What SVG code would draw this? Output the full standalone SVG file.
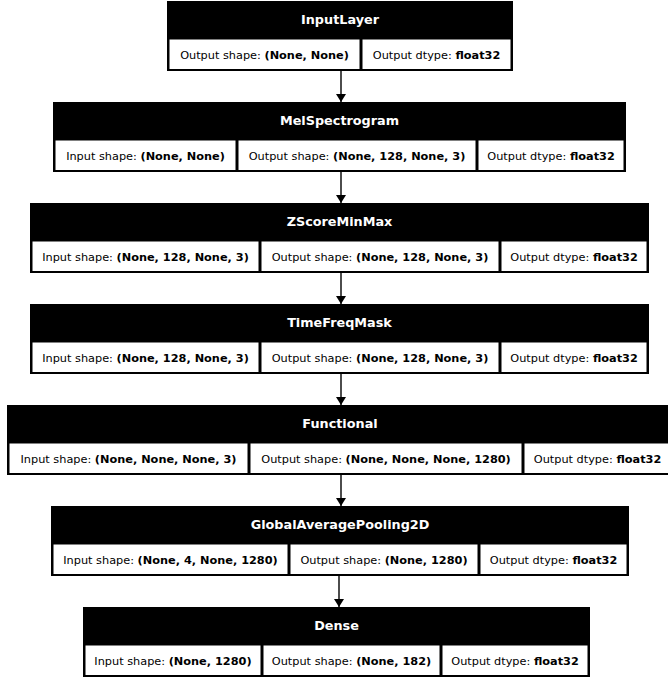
<svg xmlns="http://www.w3.org/2000/svg" width="668" height="677" viewBox="0 0 668 677">
<style>
.box{fill:#000}
.cell{fill:#fff}
.hd{font-family:"DejaVu Sans",sans-serif;font-weight:bold;font-size:12.8px;fill:#fff;text-anchor:middle}
.tx{font-family:"DejaVu Sans",sans-serif;font-size:11.3px;fill:#000;text-anchor:middle}
.b{font-weight:bold}
.edge{stroke:#000;stroke-width:1.4;fill:none}
</style>
<defs>
<marker id="ah" viewBox="0 0 8 10" refX="8" refY="5" markerWidth="8" markerHeight="10" markerUnits="userSpaceOnUse" orient="auto">
<path d="M0,0 L8,5 L0,10 z" fill="#000"/>
</marker>
</defs>
<rect width="668" height="677" fill="#fff"/>
<g id="connectors">
<path class="edge" d="M341,71 L341,102" marker-end="url(#ah)"/>
<path class="edge" d="M341,172 L341,203" marker-end="url(#ah)"/>
<path class="edge" d="M341,273 L341,304" marker-end="url(#ah)"/>
<path class="edge" d="M341,374 L341,405" marker-end="url(#ah)"/>
<path class="edge" d="M341,475 L341,506" marker-end="url(#ah)"/>
<path class="edge" d="M339,576 L339,607" marker-end="url(#ah)"/>
</g>
<g id="InputLayer">
<rect class="box" x="167" y="1" width="346" height="70"/>
<rect class="cell" x="169.5" y="39.5" width="190" height="29.5"/>
<rect class="cell" x="362.5" y="39.5" width="148" height="29.5"/>
<text class="hd" x="340" y="24.2">InputLayer</text>
<text class="tx" x="264.5" y="59">Output shape: <tspan class="b">(None, None)</tspan></text>
<text class="tx" x="436.5" y="59">Output dtype: <tspan class="b">float32</tspan></text>
</g>
<g id="MelSpectrogram">
<rect class="box" x="53" y="102" width="573" height="70"/>
<rect class="cell" x="55.5" y="140.5" width="180" height="29.5"/>
<rect class="cell" x="238.5" y="140.5" width="237" height="29.5"/>
<rect class="cell" x="478.5" y="140.5" width="145" height="29.5"/>
<text class="hd" x="339.5" y="125.2">MelSpectrogram</text>
<text class="tx" x="145.5" y="160">Input shape: <tspan class="b">(None, None)</tspan></text>
<text class="tx" x="357" y="160">Output shape: <tspan class="b">(None, 128, None, 3)</tspan></text>
<text class="tx" x="551" y="160">Output dtype: <tspan class="b">float32</tspan></text>
</g>
<g id="ZScoreMinMax">
<rect class="box" x="30" y="203" width="619" height="70"/>
<rect class="cell" x="32.5" y="241.5" width="226" height="29.5"/>
<rect class="cell" x="261.5" y="241.5" width="237" height="29.5"/>
<rect class="cell" x="501.5" y="241.5" width="145" height="29.5"/>
<text class="hd" x="339.5" y="226.2">ZScoreMinMax</text>
<text class="tx" x="145.5" y="261">Input shape: <tspan class="b">(None, 128, None, 3)</tspan></text>
<text class="tx" x="380" y="261">Output shape: <tspan class="b">(None, 128, None, 3)</tspan></text>
<text class="tx" x="574" y="261">Output dtype: <tspan class="b">float32</tspan></text>
</g>
<g id="TimeFreqMask">
<rect class="box" x="30" y="304" width="619" height="70"/>
<rect class="cell" x="32.5" y="342.5" width="226" height="29.5"/>
<rect class="cell" x="261.5" y="342.5" width="237" height="29.5"/>
<rect class="cell" x="501.5" y="342.5" width="145" height="29.5"/>
<text class="hd" x="339.5" y="327.2">TimeFreqMask</text>
<text class="tx" x="145.5" y="362">Input shape: <tspan class="b">(None, 128, None, 3)</tspan></text>
<text class="tx" x="380" y="362">Output shape: <tspan class="b">(None, 128, None, 3)</tspan></text>
<text class="tx" x="574" y="362">Output dtype: <tspan class="b">float32</tspan></text>
</g>
<g id="Functional">
<rect class="box" x="7" y="405" width="666" height="70"/>
<rect class="cell" x="9.5" y="443.5" width="238" height="29.5"/>
<rect class="cell" x="250.5" y="443.5" width="271" height="29.5"/>
<rect class="cell" x="524.5" y="443.5" width="146" height="29.5"/>
<text class="hd" x="340" y="428.2">Functional</text>
<text class="tx" x="128.5" y="463">Input shape: <tspan class="b">(None, None, None, 3)</tspan></text>
<text class="tx" x="386" y="463">Output shape: <tspan class="b">(None, None, None, 1280)</tspan></text>
<text class="tx" x="597.5" y="463">Output dtype: <tspan class="b">float32</tspan></text>
</g>
<g id="GlobalAveragePooling2D">
<rect class="box" x="51" y="506" width="578" height="70"/>
<rect class="cell" x="53.5" y="544.5" width="234" height="29.5"/>
<rect class="cell" x="290.5" y="544.5" width="187" height="29.5"/>
<rect class="cell" x="480.5" y="544.5" width="146" height="29.5"/>
<text class="hd" x="340" y="529.2">GlobalAveragePooling2D</text>
<text class="tx" x="170.5" y="564">Input shape: <tspan class="b">(None, 4, None, 1280)</tspan></text>
<text class="tx" x="384" y="564">Output shape: <tspan class="b">(None, 1280)</tspan></text>
<text class="tx" x="553.5" y="564">Output dtype: <tspan class="b">float32</tspan></text>
</g>
<g id="Dense">
<rect class="box" x="83" y="607" width="507" height="70"/>
<rect class="cell" x="85.5" y="645.5" width="175" height="29.5"/>
<rect class="cell" x="263.5" y="645.5" width="176" height="29.5"/>
<rect class="cell" x="442.5" y="645.5" width="145" height="29.5"/>
<text class="hd" x="336.5" y="630.2">Dense</text>
<text class="tx" x="173" y="665">Input shape: <tspan class="b">(None, 1280)</tspan></text>
<text class="tx" x="351.5" y="665">Output shape: <tspan class="b">(None, 182)</tspan></text>
<text class="tx" x="515" y="665">Output dtype: <tspan class="b">float32</tspan></text>
</g>
</svg>
